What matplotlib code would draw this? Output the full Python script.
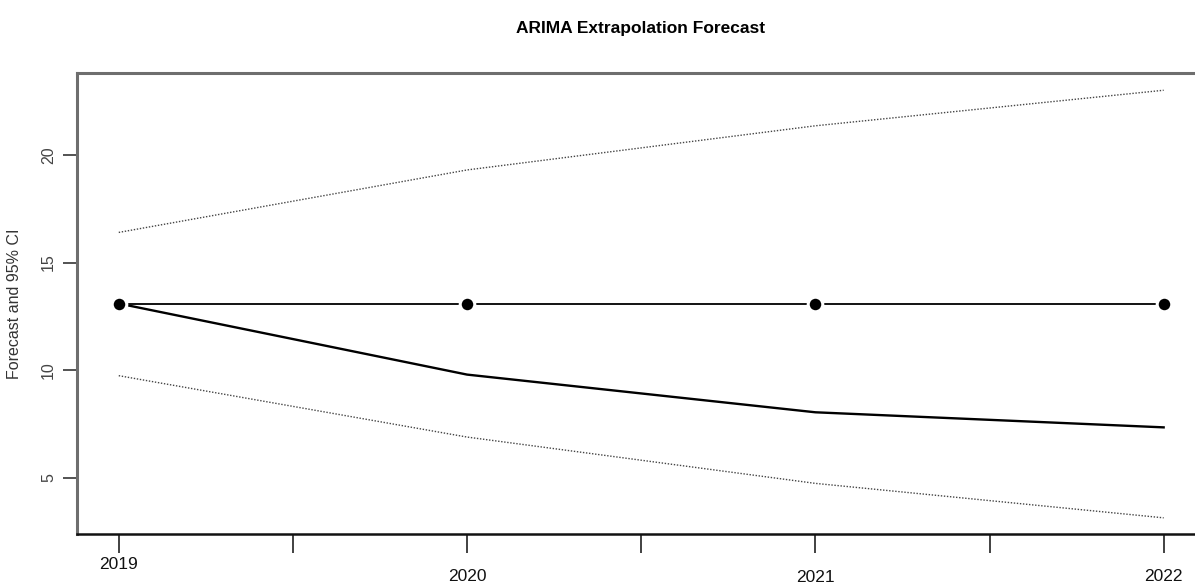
import matplotlib.pyplot as plt
import numpy as np

# Forecast data
years = [2019, 2020, 2021, 2022]
observed = [13.1, 13.1, 13.1, 13.1]
forecast = [13.1, 9.8, 8.05, 7.35]
upper_ci = [16.4, 19.3, 21.35, 23.0]
lower_ci = [9.75, 6.9, 4.75, 3.15]
year_labels = ['2019', '2020', '2021', '2022']
label_drop = [0.067, 0.093, 0.095, 0.093]  # staggered label heights (axes fraction)

plt.rcParams['font.family'] = ['Liberation Sans', 'DejaVu Sans']

fig = plt.figure(figsize=(11.95, 5.87), dpi=100)
ax = fig.add_axes([0.0644, 0.0903, 0.9356, 0.7853])

# CI bounds
ax.plot(years, upper_ci, color='#444444', lw=1.0, linestyle=(0, (1, 1.2)))
ax.plot(years, lower_ci, color='#444444', lw=1.0, linestyle=(0, (1, 1.2)))

# forecast path
ax.plot(years, forecast, color='black', lw=1.7)

# flat line with points (R type="b" look)
ax.plot(years, observed, color='black', lw=1.3)
ax.plot(years, observed, linestyle='none', marker='o', color='black',
        markersize=10.5, markeredgecolor='white', markeredgewidth=2.2)

ax.set_xlim(2018.88, 2022.09)
ax.set_ylim(2.4, 23.8)

# x axis: ticks every half year, labels only on years
ax.set_xticks(np.arange(2019, 2022.01, 0.5))
ax.set_xticklabels([])
ax.tick_params(axis='x', length=14, width=1.3, color='#333333', direction='out')
for yr, lab, drop in zip(years, year_labels, label_drop):
    ax.text(yr, -drop, lab, transform=ax.get_xaxis_transform(), ha='center', va='center',
            fontsize=12.5, color='#111111')

# y axis
ax.set_yticks([5, 10, 15, 20])
ax.set_yticklabels(['5', '10', '15', '20'], rotation=90, va='center')
ax.tick_params(axis='y', length=10, width=1.3, color='#444444', labelcolor='#444444',
               labelsize=11.5, pad=5)
ax.set_ylabel('Forecast and 95% CI', fontsize=11.5, color='#333333', labelpad=14)

for side in ['left', 'top']:
    ax.spines[side].set_color('#6e6e6e')
    ax.spines[side].set_linewidth(2.2)
ax.spines['bottom'].set_color('#111111')
ax.spines['bottom'].set_linewidth(1.8)
ax.spines['right'].set_visible(False)

fig.text(0.536, 0.952, 'ARIMA Extrapolation Forecast', ha='center', va='center',
         fontsize=12.5, fontweight='bold')

fig.savefig('out.png', dpi=100)
